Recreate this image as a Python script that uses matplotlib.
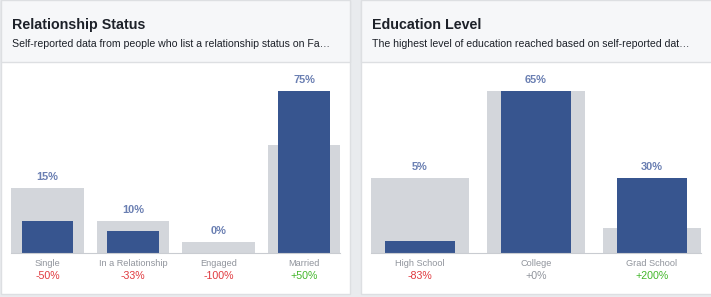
import matplotlib.pyplot as plt
from matplotlib.patches import Rectangle

plt.rcParams['font.family'] = ['Liberation Sans', 'DejaVu Sans']

# Relationship status panel
rel_title = "Relationship Status"
rel_sub = "Self-reported data from people who list a relationship status on Fa…"
rel_cats = ["Single", "In a Relationship", "Engaged", "Married"]
rel_selected = [15, 10, 0, 75]
rel_baseline = [30, 15, 5, 50]
rel_change = ["-50%", "-33%", "-100%", "+50%"]

# Education panel
edu_title = "Education Level"
edu_sub = "The highest level of education reached based on self-reported dat…"
edu_cats = ["High School", "College", "Grad School"]
edu_selected = [5, 65, 30]
edu_baseline = [30, 65, 10]
edu_change = ["-83%", "+0%", "+200%"]

BLUE = "#37558f"
GRAY_BAR = "#d3d6db"
LABEL_BLUE = "#6a7fb2"
CAT_GRAY = "#90949c"
RED = "#e0393e"
GREEN = "#42b72a"
BORDER = "#dddfe2"

W, H = 711, 297
fig = plt.figure(figsize=(W / 100, H / 100), dpi=100)
fig.patch.set_facecolor("#e9ebee")


def px(x, y, w, h):
    # pixel box (top-left origin) -> figure fraction
    return [x / W, 1 - (y + h) / H, w / W, h / H]


def card(x0, x1, title, sub):
    b = px(x0, 0.5, x1 - x0, 293.5)
    fig.patches.append(Rectangle((b[0], b[1]), b[2], b[3], transform=fig.transFigure,
                                 facecolor="white", edgecolor=BORDER, lw=1, zorder=-2))
    hb = px(x0, 0.5, x1 - x0, 61.5)
    fig.patches.append(Rectangle((hb[0], hb[1]), hb[2], hb[3], transform=fig.transFigure,
                                 facecolor="#f6f7f9", edgecolor=BORDER, lw=1, zorder=-1))
    fig.text((x0 + 11) / W, 1 - 25 / H, title, fontsize=10.3, fontweight="bold",
             color="#1d2129", va="center", ha="left")
    fig.text((x0 + 11) / W, 1 - 44 / H, sub, fontsize=7.6, color="#1d2129",
             va="center", ha="left")


def panel(rect, cats, sel, base, change, ylim_max):
    ax = fig.add_axes(rect, zorder=2)
    ax.set_facecolor("none")
    x = list(range(len(cats)))
    ax.bar(x, base, width=0.85, color=GRAY_BAR, zorder=1)
    ax.bar(x, sel, width=0.6, color=BLUE, zorder=2)
    ax.set_xlim(-0.5, len(cats) - 0.5)
    ax.set_ylim(0, ylim_max)
    ax.plot([-0.425, len(cats) - 1 + 0.425], [0, 0], color="#c9ccd1", lw=0.8,
            zorder=3, clip_on=False)
    for i in x:
        top = max(sel[i], base[i])
        ax.annotate(f"{sel[i]}%", (i, top), xytext=(0, 11), textcoords="offset pixels",
                    ha="center", va="center", fontsize=7.9, fontweight="bold",
                    color=LABEL_BLUE)
        ax.annotate(cats[i], (i, 0), xytext=(0, -11), textcoords="offset pixels",
                    ha="center", va="center", fontsize=6.6, color=CAT_GRAY,
                    annotation_clip=False)
        c = change[i]
        if c == "+0%":
            col = CAT_GRAY
        elif c.startswith("+"):
            col = GREEN
        else:
            col = RED
        ax.annotate(c, (i, 0), xytext=(0, -23), textcoords="offset pixels",
                    ha="center", va="center", fontsize=7.7, color=col,
                    annotation_clip=False)
    ax.axis("off")
    return ax


card(0.5, 350, rel_title, rel_sub)
card(361, 720, edu_title, edu_sub)

# bar area: 162 px tall for the largest value, baseline at y=253 px
panel(px(4.75, 73, 342, 180), rel_cats, rel_selected, rel_baseline, rel_change,
      max(rel_selected + rel_baseline) * 180 / 162)
panel(px(362, 73, 348, 180), edu_cats, edu_selected, edu_baseline, edu_change,
      max(edu_selected + edu_baseline) * 180 / 162)

fig.savefig("out.png", dpi=100, facecolor=fig.get_facecolor())
